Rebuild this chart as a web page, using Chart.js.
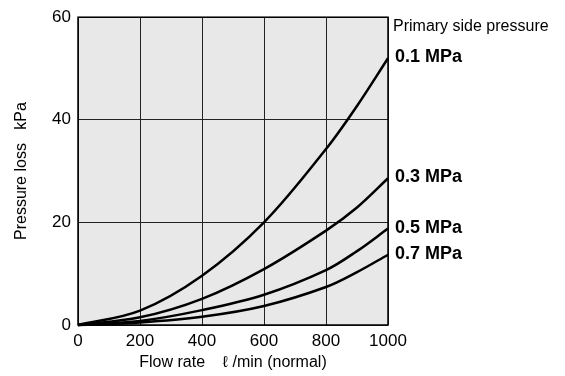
<!DOCTYPE html>
<html>
<head>
<meta charset="utf-8">
<script src="https://cdn.jsdelivr.net/npm/chart.js@4.4.1/dist/chart.umd.min.js"></script>
<style>
  html, body { margin: 0; padding: 0; background: #fff; }
  #wrap { position: relative; width: 565px; height: 376px; }
</style>
</head>
<body>
<div id="wrap"><canvas id="c"></canvas></div>
<script>
// flow rate (l/min normal) and pressure loss (kPa) per primary pressure
const flowRate = [0, 200, 400, 600, 800, 900, 1000];
const loss01 = [0, 2.8, 9.6, 20.0, 34.3, 42.7, 52.0];
const loss03 = [0, 1.5, 5.1, 10.9, 18.4, 22.9, 28.6];
const loss05 = [0, 0.8, 2.9, 5.9, 10.7, 14.4, 18.8];
const loss07 = [0, 0.5, 1.6, 3.7, 7.4, 10.3, 13.7];
const seriesLabels = ['0.1 MPa', '0.3 MPa', '0.5 MPa', '0.7 MPa'];
const xTicks = [0, 200, 400, 600, 800, 1000];
const yTicks = [0, 20, 40, 60];

const FONT = "'Liberation Sans', Arial, Helvetica, sans-serif";

function toPoints(ys) {
  return flowRate.map((x, i) => ({ x: x, y: ys[i] }));
}

// gray plot background + frame, and the labels on the right
const plotDecor = {
  id: 'plotDecor',
  beforeDraw(chart) {
    const { ctx, chartArea: a } = chart;
    ctx.save();
    ctx.fillStyle = '#e8e8e8';
    ctx.fillRect(a.left, a.top, a.right - a.left, a.bottom - a.top);
    ctx.restore();
  },
  beforeDatasetsDraw(chart) {
    const { ctx, chartArea: a } = chart;
    ctx.save();
    ctx.strokeStyle = '#000';
    ctx.lineWidth = 1.5;
    ctx.strokeRect(a.left, a.top, a.right - a.left, a.bottom - a.top);
    ctx.restore();
  },
  afterDatasetsDraw(chart) {
    const { ctx, chartArea: a, scales } = chart;
    ctx.save();
    ctx.fillStyle = '#000';
    ctx.textBaseline = 'middle';
    ctx.textAlign = 'left';
    ctx.font = '16px ' + FONT;
    ctx.fillText('Primary side pressure', a.right + 5, 27);
    ctx.font = 'bold 18px ' + FONT;
    chart.data.datasets.forEach((ds, i) => {
      const last = ds.data[ds.data.length - 1];
      const y = scales.y.getPixelForValue(last.y);
      ctx.fillText(seriesLabels[i], a.right + 7, y - 1);
    });
    ctx.restore();
  }
};

const lineStyle = {
  borderColor: '#000',
  borderWidth: 2.5,
  pointRadius: 0,
  fill: false,
  tension: 0.35,
  clip: false
};

new Chart(document.getElementById('c'), {
  type: 'line',
  data: {
    datasets: [
      { label: seriesLabels[0], data: toPoints(loss01), ...lineStyle },
      { label: seriesLabels[1], data: toPoints(loss03), ...lineStyle },
      { label: seriesLabels[2], data: toPoints(loss05), ...lineStyle },
      { label: seriesLabels[3], data: toPoints(loss07), ...lineStyle }
    ]
  },
  options: {
    responsive: true,
    maintainAspectRatio: false,
    animation: false,
    layout: { padding: { top: 14, right: 177, bottom: 0, left: 0 } },
    plugins: {
      legend: { display: false },
      tooltip: { enabled: false }
    },
    scales: {
      x: {
        type: 'linear',
        min: 0,
        max: 1000,
        afterBuildTicks: (s) => { s.ticks = xTicks.map(v => ({ value: v })); },
        afterFit: (s) => { s.height = 51; },
        ticks: {
          color: '#000',
          font: { family: FONT, size: 17 },
          padding: 6,
          maxRotation: 0,
          callback: (v) => String(v)
        },
        grid: { color: '#222', lineWidth: 1, drawTicks: false },
        border: { display: false },
        title: {
          display: true,
          text: 'Flow rate    \u2113 /min (normal)',
          color: '#000',
          font: { family: FONT, size: 16 },
          padding: { top: 0, bottom: 4 }
        }
      },
      y: {
        type: 'linear',
        min: 0,
        max: 60,
        afterBuildTicks: (s) => { s.ticks = yTicks.map(v => ({ value: v })); },
        afterFit: (s) => { s.width = 78; },
        ticks: {
          color: '#000',
          font: { family: FONT, size: 17 },
          padding: 7,
          callback: (v) => String(v)
        },
        grid: { color: '#222', lineWidth: 1, drawTicks: false },
        border: { display: false },
        title: {
          display: true,
          text: 'Pressure loss   kPa',
          color: '#000',
          font: { family: FONT, size: 16 },
          padding: { top: 12, bottom: 0 }
        }
      }
    }
  },
  plugins: [plotDecor]
});
</script>
</body>
</html>
